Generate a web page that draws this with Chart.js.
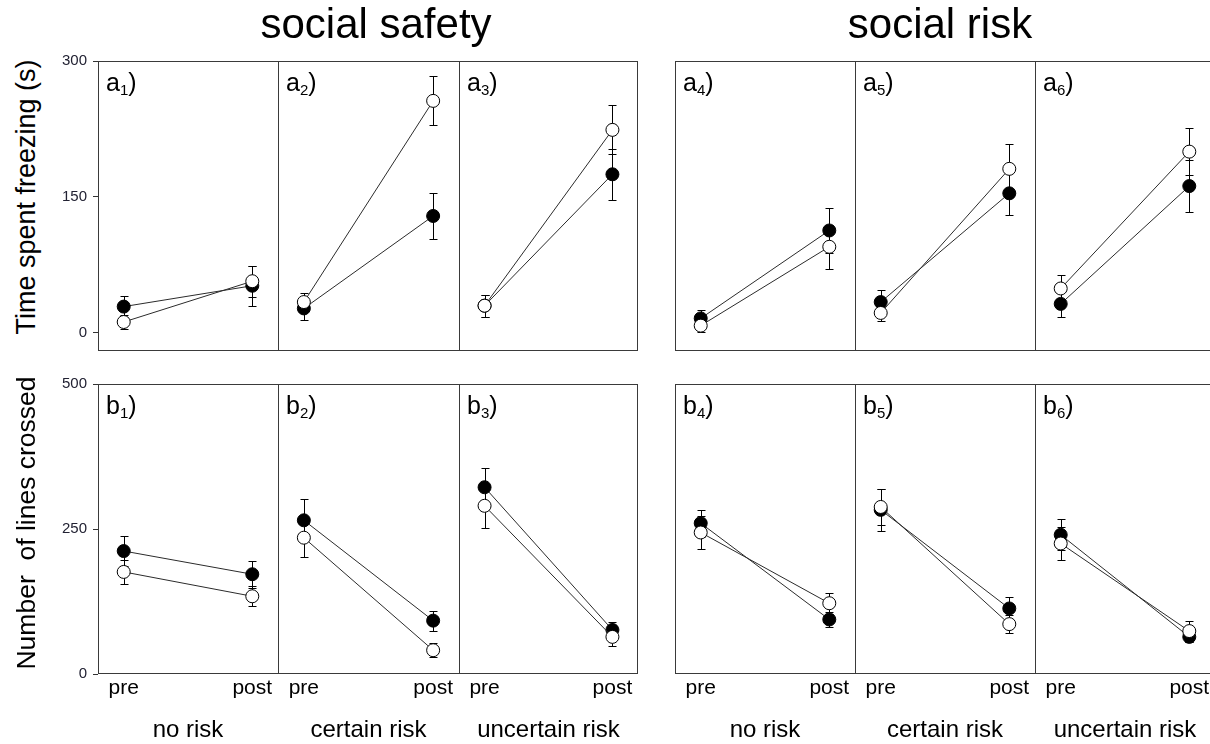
<!DOCTYPE html>
<html>
<head>
<meta charset="utf-8">
<script src="https://cdn.jsdelivr.net/npm/chart.js@4.4.1/dist/chart.umd.min.js"></script>
<style>
  body { margin: 0; width: 1210px; height: 744px; overflow: hidden; position: relative; background: #fff;
         font-family: "Liberation Sans", Arial, sans-serif; }
  canvas { position: absolute; }
  .txt { position: absolute; white-space: pre; line-height: 1; color: #000; }
  .sub { font-size: 15px; position: relative; top: 4px; }
</style>
</head>
<body>
<script>
const FONT = '"Liberation Sans", Arial, sans-serif'

const contexts = ['social safety', 'social risk']
const conditions = ['no risk', 'certain risk', 'uncertain risk']
const phases = ['pre', 'post']
const rowTitles = ['Time spent freezing (s)', 'Number  of lines crossed']
const rowLetters = ['a', 'b']

// time spent freezing (s), [pre, post] per panel a1..a6
const freezeOpen = [[12, 57], [34, 256], [30, 224], [8, 95], [22, 181], [49, 200]]
const freezeOpenErr = [[8, 17], [10, 27], [12, 27], [7, 24], [9, 27], [15, 26]]
const freezeFilled = [[29, 52], [27, 129], [30, 175], [16, 113], [34, 154], [32, 162]]
const freezeFilledErr = [[12, 22], [13, 25], [12, 28], [9, 25], [13, 24], [14, 29]]
const freezeTicks = [0, 150, 300]

// number of lines crossed, [pre, post] per panel b1..b6
const linesOpen = [[176, 134], [235, 41], [290, 64], [244, 122], [288, 86], [225, 74]]
const linesOpenErr = [[21, 17], [34, 12], [38, 16], [29, 18], [31, 16], [28, 18]]
const linesFilled = [[212, 172], [265, 92], [322, 76], [260, 94], [283, 113], [240, 64]]
const linesFilledErr = [[26, 23], [36, 17], [33, 14], [23, 13], [36, 19], [27, 8]]
const linesTicks = [0, 250, 500]

const rows = [
  { open: freezeOpen, openErr: freezeOpenErr, filled: freezeFilled, filledErr: freezeFilledErr, ticks: freezeTicks, min: -20, max: 300 },
  { open: linesOpen, openErr: linesOpenErr, filled: linesFilled, filledErr: linesFilledErr, ticks: linesTicks, min: 0, max: 500 }
]

// panel edges (page px)
const COLS = [[98, 278, 459, 638], [675, 855, 1035, 1215]]
const ROWS = [[61, 351], [384, 674]]
const PAD = 20, YAXIS_W = 50, XAXIS_H = 34

// vertical error bars with caps, drawn under the markers
const errorBars = {
  id: 'errorBars',
  beforeDatasetsDraw(chart) {
    const ctx = chart.ctx, ys = chart.scales.y
    ctx.save()
    ctx.strokeStyle = '#000'
    ctx.lineWidth = 1
    chart.data.datasets.forEach((ds, i) => {
      chart.getDatasetMeta(i).data.forEach((pt, j) => {
        const v = ds.data[j].y, e = ds.errors[j]
        const x = Math.round(pt.x) + 0.5
        const y1 = Math.round(ys.getPixelForValue(v + e)) + 0.5
        const y2 = Math.round(ys.getPixelForValue(v - e)) + 0.5
        ctx.beginPath()
        ctx.moveTo(x, y1); ctx.lineTo(x, y2)
        ctx.moveTo(x - 4, y1); ctx.lineTo(x + 4, y1)
        ctx.moveTo(x - 4, y2); ctx.lineTo(x + 4, y2)
        ctx.stroke()
      })
    })
    ctx.restore()
  }
}

// frame round each panel; the right edge only on the last one of a group
const panelBox = {
  id: 'panelBox',
  afterDatasetsDraw(chart, args, opts) {
    const { left, right, top, bottom } = chart.chartArea
    const ctx = chart.ctx
    ctx.save()
    ctx.strokeStyle = '#3a3a3a'
    ctx.lineWidth = 1
    ctx.beginPath()
    ctx.moveTo(left, top + 0.5); ctx.lineTo(right, top + 0.5)
    ctx.moveTo(left, bottom - 0.5); ctx.lineTo(right, bottom - 0.5)
    ctx.moveTo(left + 0.5, top); ctx.lineTo(left + 0.5, bottom)
    if (opts.last) { ctx.moveTo(right - 0.5, top); ctx.lineTo(right - 0.5, bottom) }
    ctx.stroke()
    ctx.restore()
  }
}

function pts(pair) {
  return pair.map((y, i) => ({ x: i, y: y }))
}

function series(values, errs, fill) {
  return {
    data: pts(values),
    errors: errs,
    borderColor: '#2b2b2b',
    borderWidth: 1,
    pointRadius: 6.5,
    pointBorderWidth: 1,
    pointBorderColor: '#000',
    pointBackgroundColor: fill,
    tension: 0
  }
}

function addText(html, x, baseline, size, center) {
  const d = document.createElement('div')
  d.className = 'txt'
  d.innerHTML = html
  d.style.fontSize = size + 'px'
  d.style.left = x + 'px'
  d.style.top = (baseline - 0.8465 * size) + 'px'
  if (center) d.style.transform = 'translateX(-50%)'
  document.body.appendChild(d)
}

rows.forEach((row, r) => {
  COLS.forEach((xs, g) => {
    for (let c = 0; c < 3; c++) {
      const k = g * 3 + c
      const left = xs[c], right = xs[c + 1]
      const top = ROWS[r][0], bottom = ROWS[r][1]
      const hasY = g === 0 && c === 0
      const hasX = r === 1
      const padL = hasY ? YAXIS_W : PAD
      const padB = hasX ? XAXIS_H : PAD

      const cv = document.createElement('canvas')
      cv.width = right - left + padL + PAD
      cv.height = bottom - top + PAD + padB
      cv.style.left = (left - padL) + 'px'
      cv.style.top = (top - PAD) + 'px'
      document.body.appendChild(cv)

      new Chart(cv, {
        type: 'line',
        data: {
          datasets: [
            series(row.open[k], row.openErr[k], '#fff'),
            series(row.filled[k], row.filledErr[k], '#000')
          ]
        },
        options: {
          responsive: false,
          animation: false,
          events: [],
          layout: { padding: { left: hasY ? 0 : PAD, right: PAD, top: PAD, bottom: hasX ? 0 : PAD } },
          plugins: {
            legend: { display: false },
            tooltip: { enabled: false },
            panelBox: { last: c === 2 }
          },
          scales: {
            x: {
              type: 'linear', min: -0.2, max: 1.2, display: hasX,
              afterBuildTicks: s => { s.ticks = [{ value: 0 }, { value: 1 }] },
              afterFit: s => { s.height = hasX ? XAXIS_H : 0 },
              grid: { display: false, drawTicks: false },
              border: { display: false },
              ticks: { callback: v => phases[v], font: { family: FONT, size: 21 }, color: '#000', padding: 2, maxRotation: 0, autoSkip: false }
            },
            y: {
              min: row.min, max: row.max, display: hasY,
              afterBuildTicks: s => { s.ticks = row.ticks.map(v => ({ value: v })) },
              afterFit: s => { s.width = hasY ? YAXIS_W : 0 },
              grid: { drawOnChartArea: false, tickLength: 5, color: '#333' },
              border: { display: false },
              ticks: { font: { family: FONT, size: 15 }, color: '#223', padding: 6 }
            }
          }
        },
        plugins: [errorBars, panelBox]
      })

      addText(rowLetters[r] + '<span class="sub">' + (k + 1) + '</span>)', left + 8, top + 30, 25, false)
      if (r === 1) addText(conditions[c], (left + right) / 2, 737, 24, true)
    }
  })
})

// group titles and row titles
contexts.forEach((t, g) => {
  const cx = g === 0 ? 376 : 940
  addText(t, cx, 38.5, 42, true)
})
rowTitles.forEach((t, r) => {
  const d = document.createElement('div')
  d.className = 'txt'
  d.textContent = t
  d.style.fontSize = r === 0 ? '27px' : '26.5px'
  d.style.left = '26px'
  d.style.top = ((ROWS[r][0] + ROWS[r][1]) / 2 + (r === 0 ? -9 : -6)) + 'px'
  d.style.transform = 'translate(-50%, -50%) rotate(-90deg)'
  document.body.appendChild(d)
})
</script>
</body>
</html>
